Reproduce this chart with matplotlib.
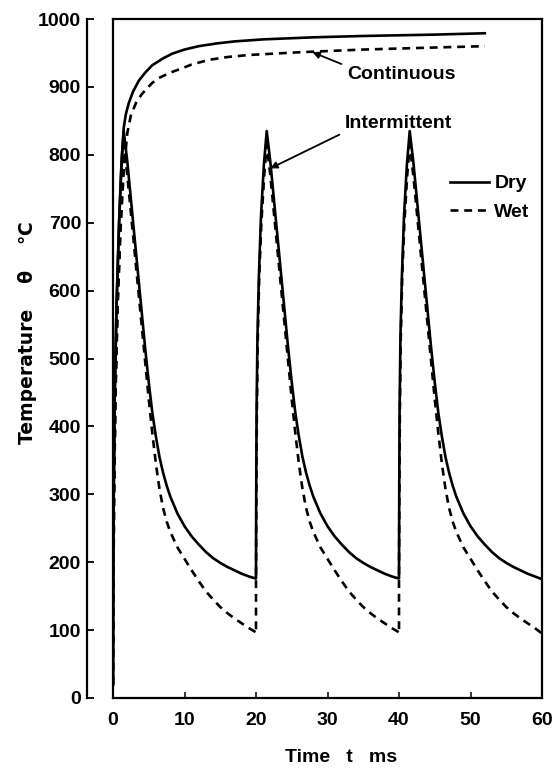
import matplotlib.pyplot as plt

plt.rcParams["font.family"] = ["Liberation Sans", "DejaVu Sans"]
plt.rcParams["font.weight"] = "bold"

# continuous heating
t_cont_dry = [0, 0.03, 0.1, 0.25, 0.5, 0.85, 1.2, 1.5, 1.8, 2.2, 2.8, 3.6, 4.5, 5.5, 7, 8.3,
              10, 12, 14.5, 17, 21, 28, 35, 45, 52]
temp_cont_dry = [20, 150, 300, 450, 580, 700, 790, 840, 860, 876, 893, 909, 921, 932, 942, 949,
                 955, 960, 964, 967, 970, 973, 975, 977, 979]

t_cont_wet = [0, 0.05, 0.15, 0.35, 0.65, 1.05, 1.5, 2.0, 2.5, 3.2, 4.0, 4.6, 5.5, 6.4, 8, 9.3,
              11, 13.5, 16, 19, 26, 35, 45, 52]
temp_cont_wet = [20, 150, 300, 450, 580, 690, 775, 832, 858, 876, 889, 896, 906, 913, 921, 926,
                 933, 940, 944, 947, 951, 955, 958, 960]

# intermittent heating, three 20 ms cycles
t_int_dry = [
    0, 0.03, 0.1, 0.25, 0.5, 0.85, 1.2, 1.5,
    2.0, 2.5, 3.0, 3.5, 4.0, 4.5, 5.0, 5.5, 6.0, 6.5, 7.0, 7.5, 8.0, 9.0, 10, 11, 12, 13,
    14, 15, 16, 17, 18, 19, 19.95,
    20.0, 20.03, 20.08, 20.2, 20.4, 20.7, 21.1, 21.5,
    22.0, 22.5, 23.0, 23.5, 24.0, 24.5, 25.0, 25.5, 26.0, 26.5, 27.0, 27.5, 28.0, 29, 30, 31, 32, 33,
    34, 35, 36, 37, 38, 39, 39.95,
    40.0, 40.03, 40.08, 40.2, 40.4, 40.7, 41.1, 41.5,
    42.0, 42.5, 43.0, 43.5, 44.0, 44.5, 45.0, 45.5, 46.0, 46.5, 47.0, 47.5, 48.0, 49, 50, 51, 52, 53,
    54, 55, 56, 57, 58, 59, 60,
]
temp_int_dry = [
    20, 150, 300, 450, 580, 700, 790, 835,
    790, 735, 680, 625, 570, 515, 465, 420, 385, 355, 332, 313, 297, 272, 253, 238, 226, 215,
    206, 199, 193, 188, 183, 179, 176,
    176, 300, 420, 530, 620, 710, 785, 835,
    790, 735, 680, 625, 570, 515, 465, 420, 385, 355, 332, 313, 297, 272, 253, 238, 226, 215,
    206, 199, 193, 188, 183, 179, 176,
    176, 300, 420, 530, 620, 710, 785, 835,
    790, 735, 680, 625, 570, 515, 465, 420, 385, 355, 332, 313, 297, 272, 253, 238, 226, 215,
    206, 199, 193, 188, 183, 179, 175,
]

t_int_wet = [
    0, 0.05, 0.15, 0.35, 0.65, 1.05, 1.5,
    2.0, 2.5, 3.0, 3.5, 4.0, 4.5, 5.0, 5.5, 6.0, 6.5, 7.0, 7.5, 8.0, 9.0, 10, 11, 12, 13,
    14, 15, 16, 17, 18, 19, 19.95,
    20.0, 20.0, 20.05, 20.12, 20.25, 20.45, 20.75, 21.15, 21.5,
    22.0, 22.5, 23.0, 23.5, 24.0, 24.5, 25.0, 25.5, 26.0, 26.5, 27.0, 27.5, 28.0, 29, 30, 31, 32, 33,
    34, 35, 36, 37, 38, 39, 39.95,
    40.0, 40.0, 40.05, 40.12, 40.25, 40.45, 40.75, 41.15, 41.5,
    42.0, 42.5, 43.0, 43.5, 44.0, 44.5, 45.0, 45.5, 46.0, 46.5, 47.0, 47.5, 48.0, 49, 50, 51, 52, 53,
    54, 55, 56, 57, 58, 59, 60,
]
temp_int_wet = [
    20, 150, 300, 450, 580, 700, 815,
    770, 715, 660, 605, 550, 495, 440, 390, 345, 308, 280, 260, 245, 222, 205, 188, 172, 157,
    145, 134, 125, 117, 110, 103, 97,
    95, 176, 300, 420, 530, 620, 700, 770, 815,
    770, 715, 660, 605, 550, 495, 440, 390, 345, 308, 280, 260, 245, 222, 205, 188, 172, 157,
    145, 134, 125, 117, 110, 103, 97,
    95, 176, 300, 420, 530, 620, 700, 770, 815,
    770, 715, 660, 605, 550, 495, 440, 390, 345, 308, 280, 260, 245, 222, 205, 188, 172, 157,
    145, 134, 125, 117, 110, 103, 95,
]

x_ticks = [0, 10, 20, 30, 40, 50, 60]
y_ticks = [0, 100, 200, 300, 400, 500, 600, 700, 800, 900, 1000]

fig = plt.figure(figsize=(5.54, 7.69), dpi=100)
fig.patch.set_facecolor("white")
ax = fig.add_axes([113 / 554, 1 - 698 / 769, 429 / 554, 679 / 769])

dry = dict(color="black", lw=1.9)
wet = dict(color="black", lw=1.9, ls=(0, (3, 2.2)))

ax.plot(t_cont_dry, temp_cont_dry, **dry)
ax.plot(t_cont_wet, temp_cont_wet, **wet)
line_dry, = ax.plot(t_int_dry, temp_int_dry, label="Dry", **dry)
line_wet, = ax.plot(t_int_wet, temp_int_wet, label="Wet", **wet)

ax.set_xlim(0, 60)
ax.set_ylim(0, 1000)
ax.set_xticks(x_ticks)
ax.set_yticks(y_ticks)

# offset temperature scale on the left, closed frame around the plot
for side in ["top", "right", "bottom", "left"]:
    ax.spines[side].set_linewidth(1.6)
ax.spines["left"].set_position(("outward", 19))
ax.spines["left"].set_bounds(0, 1000)
ax.axvline(0, color="black", lw=1.6, clip_on=False)

ax.tick_params(axis="y", direction="in", length=5, width=1.3, pad=4, labelsize=14)
ax.tick_params(axis="x", direction="in", length=4, width=1.1, pad=10, labelsize=14)

ax.annotate("Continuous", xy=(27.9, 951), xytext=(32.7, 918),
            ha="left", va="center", fontsize=14,
            arrowprops=dict(arrowstyle="-|>", color="black", lw=1.3,
                            mutation_scale=10, relpos=(0, 1),
                            shrinkA=2, shrinkB=0))
ax.annotate("Intermittent", xy=(22.0, 780), xytext=(32.4, 846),
            ha="left", va="center", fontsize=14,
            arrowprops=dict(arrowstyle="-|>", color="black", lw=1.3,
                            mutation_scale=10, relpos=(0, 0),
                            shrinkA=2, shrinkB=0))

ax.legend(handles=[line_dry, line_wet], frameon=False, fontsize=14,
          loc="upper left", bbox_to_anchor=(0.762, 0.785), borderpad=0,
          handlelength=2.0, handletextpad=0.3, labelspacing=0.55)

fig.text(28 / 554, 1 - 333 / 769, "Temperature    θ    ℃", rotation=90,
         ha="center", va="center", fontsize=13.5,
         family=["DejaVu Sans"])
fig.text(341 / 554, 1 - 757 / 769, "Time   t   ms", ha="center", va="center",
         fontsize=14)

fig.savefig("out.png", dpi=100, facecolor="white")
